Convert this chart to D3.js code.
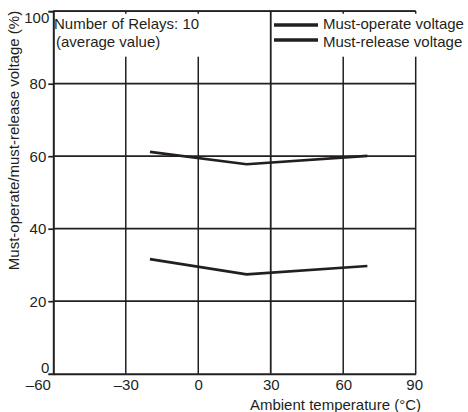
<!DOCTYPE html>
<html>
<head>
<meta charset="utf-8">
<script src="https://cdn.jsdelivr.net/npm/d3@7/dist/d3.min.js"></script>
<style>
  html, body { margin: 0; padding: 0; background: #fff; }
  svg { display: block; font-family: "Liberation Sans", Arial, Helvetica, sans-serif; }
</style>
</head>
<body>
<script>
// Ambient temperature sample points (°C)
const temperatures = [-20, 20, 70];
// Average of 10 relays, % of rated voltage
const mustOperate = [61.2, 57.8, 60.1];
const mustRelease = [31.6, 27.4, 29.7];
const seriesNames = ["Must-operate voltage", "Must-release voltage"];
const xTicks = [-60, -30, 0, 30, 60, 90];
const yTicks = [0, 20, 40, 60, 80, 100];
const xTickLabels = ["\u201360", "\u201330", "0", "30", "60", "90"];

const W = 468, H = 412;
const ink = "#231f20";
const svg = d3.select("body").append("svg").attr("width", W).attr("height", H);

const x = d3.scaleLinear().domain([-60, 90]).range([53.3, 415.7]);
const y = d3.scaleLinear().domain([0, 100]).range([373.7, 11.2]);

// grid
const grid = svg.append("g");
grid.selectAll("line.v").data(xTicks.slice(1)).join("line")
  .attr("x1", d => x(d)).attr("x2", d => x(d))
  .attr("y1", y(100)).attr("y2", y(0))
  .attr("stroke", ink).attr("stroke-width", d => d === 30 ? 1.8 : 1.5);
grid.selectAll("line.h").data(yTicks.slice(1)).join("line")
  .attr("x1", x(-60)).attr("x2", x(90))
  .attr("y1", d => y(d)).attr("y2", d => y(d))
  .attr("stroke", ink).attr("stroke-width", 1.7);

// data lines
const line = d3.line().x(d => x(d[0])).y(d => y(d[1]));
[mustOperate, mustRelease].forEach(vals => {
  svg.append("path")
    .datum(temperatures.map((t, i) => [t, vals[i]]))
    .attr("d", line)
    .attr("fill", "none").attr("stroke", ink).attr("stroke-width", 2.6)
    .attr("stroke-linejoin", "miter");
});

// white panels behind the annotations
svg.append("rect").attr("x", x(-60) + 1.5).attr("y", y(100) + 2.5)
  .attr("width", 152).attr("height", 43).attr("fill", "#fff");
svg.append("rect").attr("x", x(30) + 1.5).attr("y", y(100) + 2.5)
  .attr("width", W - x(30)).attr("height", 43).attr("fill", "#fff");

// axes
const xAxis = d3.axisBottom(x).tickValues(xTicks).tickSize(0).tickPadding(6)
  .tickFormat((d, i) => xTickLabels[i]);
const gx = svg.append("g").attr("transform", `translate(0,${y(0)})`).call(xAxis);
gx.select(".domain").attr("stroke", ink).attr("stroke-width", 2);
gx.selectAll(".tick text").attr("fill", ink).style("font-size", "15px")
  .attr("dx", d => d === -60 ? -15.5 : d === 90 ? -1.5 : 0);

const yAxis = d3.axisLeft(y).tickValues(yTicks).tickSize(5).tickPadding(3);
const gy = svg.append("g").attr("transform", `translate(${x(-60)},0)`).call(yAxis);
gy.select(".domain").attr("stroke", ink).attr("stroke-width", 2);
gy.selectAll(".tick line").attr("stroke", ink).attr("stroke-width", 1.7)
  .attr("opacity", d => (d === 0 || d === 100) ? 0 : 1);
gy.selectAll(".tick text").attr("fill", ink).style("font-size", "15px")
  .attr("x", d => (d === 0 || d === 100) ? -4 : -7)
  .attr("dy", d => d === 100 ? "0.75em" : d === 0 ? "-0.05em" : "0.32em");

// top and right frame
svg.append("line").attr("x1", x(-60)).attr("x2", x(90)).attr("y1", y(100)).attr("y2", y(100))
  .attr("stroke", ink).attr("stroke-width", 1.5);

// annotation text
svg.append("text").attr("x", 54).attr("y", 28.5).attr("fill", ink)
  .style("font-size", "15px").text("Number of Relays: 10");
svg.append("text").attr("x", 56).attr("y", 47).attr("fill", ink)
  .style("font-size", "15px").text("(average value)");

// legend
const legend = svg.append("g");
seriesNames.forEach((name, i) => {
  const ly = 25 + i * 15;
  legend.append("line").attr("x1", 274).attr("x2", 318).attr("y1", ly).attr("y2", ly)
    .attr("stroke", ink).attr("stroke-width", 3.5);
  legend.append("text").attr("x", 323).attr("y", 28.5 + i * 18.5).attr("fill", ink)
    .style("font-size", "15px").text(name);
});

// axis titles
svg.append("text").attr("x", 421).attr("y", 410).attr("text-anchor", "end")
  .attr("fill", ink).style("font-size", "15px").text("Ambient temperature (\u00b0C)");
svg.append("text").attr("transform", "translate(18.5,140.5) rotate(-90)")
  .attr("text-anchor", "middle").attr("fill", ink).style("font-size", "15px")
  .text("Must-operate/must-release voltage (%)");
</script>
</body>
</html>
